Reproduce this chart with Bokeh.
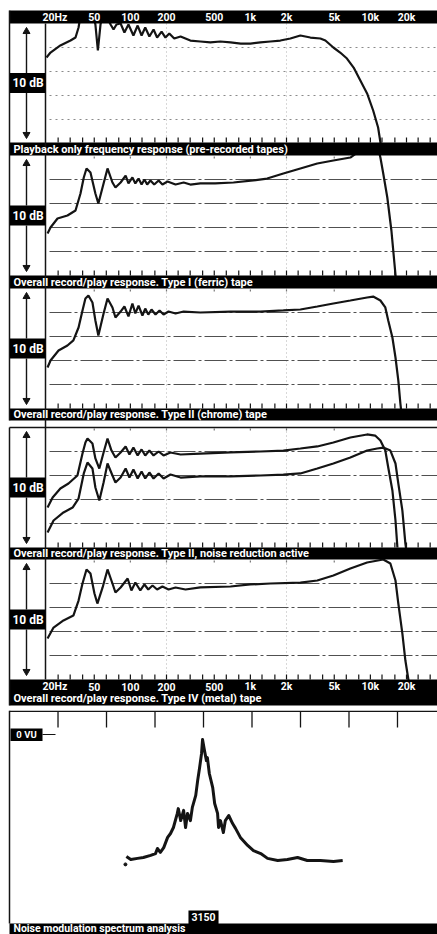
from bokeh.plotting import figure
from bokeh.models import Range1d, LogScale
from bokeh.layouts import column
from bokeh.embed import file_html
from bokeh.resources import INLINE
from bokeh.core.properties import value

FONT = "Roboto"
INK = "#141414"

# ---------------- data ----------------
freq_tick_values = [20, 50, 100, 200, 500, 1000, 2000, 5000, 10000, 20000]
freq_tick_labels = ["20Hz", "50", "100", "200", "500", "1k", "2k", "5k", "10k", "20k"]
third_octave_hz = [25, 31.5, 40, 50, 63, 80, 100, 125, 160, 200, 250, 315, 400, 500, 630,
                   800, 1000, 1250, 1600, 2000, 2500, 3150, 4000, 5000, 6300, 8000, 10000,
                   12500, 16000, 20000, 25000, 31500]
grid_db = [0, -2, -4, -6]
vgrid_hz = [200, 2000]

captions = [
    "Playback only frequency response (pre-recorded tapes)",
    "Overall record/play response. Type I (ferric) tape",
    "Overall record/play response. Type II (chrome) tape",
    "Overall record/play response. Type II, noise reduction active",
    "Overall record/play response. Type IV (metal) tape",
]

playback_hz = [20, 21.6, 26.1, 31.7, 34.9, 37.0, 38.4, 43.9, 49.3, 51.1, 53.6, 56.4, 58.7, 63.4,
               68.4, 72.4, 76.6, 82.9, 89.2, 96.4, 106, 115, 124, 133, 144, 156, 167, 182, 196,
               211, 232, 262, 316, 383, 464, 562, 683, 832, 1000, 1212, 1468, 1778, 2154, 2610,
               3162, 3830, 4217, 4916, 5600, 6380, 7250, 8250, 9390, 10550, 11600, 12350]
playback_db = [-0.83, -0.42, 0.17, 0.58, 0.83, 1.67, 2.67, 2.92, 2.75, 1.92, -0.25, 1.92, 2.75,
               2.58, 1.92, 1.5, 1.92, 2.0, 1.25, 1.92, 1.0, 1.83, 1.0, 1.67, 0.92, 1.5, 0.83,
               1.33, 0.83, 1.17, 0.75, 0.92, 0.58, 0.5, 0.42, 0.5, 0.42, 0.33, 0.33, 0.42, 0.5,
               0.58, 0.75, 1.0, 0.83, 0.75, 0.58, 0.0, -0.42, -0.92, -1.67, -2.75, -3.83,
               -5.25, -6.67, -8.42]

ferric_hz = [20.4, 21.6, 24.7, 29.9, 34.9, 38.4, 40.9, 43.1, 46.5, 51.1, 54.1, 59.8, 64.5, 70.9,
             75.1, 82.9, 91.3, 96.4, 104, 110, 117, 124, 131, 138, 147, 158, 172, 185, 204, 238,
             278, 316, 383, 508, 723, 1059, 1379, 1883, 2610, 3610, 4916, 6810, 8250, 9900,
             11600, 12120, 12800, 13840, 14970, 15870, 16500]
ferric_db = [-4.5, -4.0, -3.25, -3.0, -2.58, -1.17, 0.17, 0.92, 0.58, -1.17, -2.0, -0.33, 0.92,
             -0.25, -0.67, -0.25, 0.33, -0.33, 0.17, -0.33, 0.08, -0.42, 0.0, -0.42, -0.08,
             -0.42, -0.08, -0.42, -0.17, -0.42, -0.25, -0.42, -0.33, -0.33, -0.25, -0.08, 0.08,
             0.5, 0.92, 1.33, 1.58, 1.83, 2.42, 2.75, 2.6, 1.83, 0.5, -1.5, -4.25, -7.0, -8.83]

chrome_hz = [20.4, 21.6, 25.2, 29.9, 33.5, 37.0, 39.9, 42.2, 44.7, 48.3, 51.1, 54.1, 59.8, 64.5,
             70.9, 75.1, 82.9, 89.2, 96.4, 104, 110, 117, 126, 133, 141, 150, 162, 175, 189, 208,
             238, 278, 383, 683, 1212, 1883, 2610, 3610, 4916, 6810, 9390, 10550, 12120, 13320,
             14090, 15260, 16190, 17100, 17780, 18120]
chrome_db = [-4.58, -4.0, -3.17, -2.75, -2.33, -1.25, 0.17, 1.17, 1.42, 0.83, -0.67, -1.92,
             -0.08, 1.17, 0.42, -0.42, 0.08, 0.5, -0.33, 0.75, -0.08, 0.58, -0.25, 0.33, -0.17,
             0.25, -0.17, 0.17, -0.17, 0.08, -0.08, 0.08, 0.0, 0.08, 0.08, 0.17, 0.25, 0.5, 0.75,
             1.0, 1.25, 1.33, 1.0, 0.42, -0.67, -2.08, -3.75, -5.67, -7.58, -8.33]

nr_upper_hz = [20.4, 22.5, 26.1, 30.5, 36.2, 39.9, 42.2, 43.9, 48.3, 51.1, 55.1, 59.8, 64.5,
               69.6, 75.1, 82.9, 91.3, 98.2, 106, 115, 124, 133, 144, 156, 172, 189, 216, 262,
               383, 683, 1212, 1883, 2610, 3610, 4916, 6810, 9390, 10960, 12120, 13320, 14090,
               15260, 16190, 16800]
nr_upper_db = [-4.67, -3.83, -3.08, -2.67, -2.0, -0.17, 0.75, 1.08, 0.67, -0.58, -1.42, -0.08,
               1.08, 0.08, -0.5, -0.08, 0.42, -0.25, 0.33, -0.33, 0.17, -0.33, 0.08, -0.33, 0.0,
               -0.33, -0.08, -0.25, -0.17, -0.08, 0.0, 0.08, 0.25, 0.42, 0.75, 1.17, 1.42, 1.33,
               0.92, 0.08, -1.33, -3.25, -5.75, -8.0]

nr_lower_hz = [20.4, 22.9, 27.7, 33.0, 37.0, 40.9, 43.9, 48.3, 51.1, 55.1, 59.8, 64.5, 70.9,
               75.1, 82.9, 91.3, 98.2, 106, 115, 124, 133, 144, 156, 172, 189, 216, 262, 383,
               683, 1212, 1883, 2610, 3610, 4916, 6810, 9390, 11400, 12800, 14680, 16190, 17100,
               18480, 19580, 19950]
nr_lower_db = [-6.75, -5.75, -5.08, -4.67, -3.92, -1.83, -0.92, -1.42, -3.0, -4.08, -2.58, -1.0,
               -2.0, -2.58, -2.17, -1.42, -2.17, -1.5, -2.25, -1.67, -2.25, -1.75, -2.25, -1.83,
               -2.25, -1.92, -2.17, -2.08, -2.08, -2.0, -1.92, -1.83, -1.42, -1.0, -0.5, 0.08,
               0.25, 0.33, 0.08, -1.0, -2.67, -4.92, -7.67, -8.25]

metal_hz = [20.4, 22.9, 27.7, 33.5, 37.0, 39.9, 43.1, 46.5, 50.2, 53.1, 58.7, 64.5, 70.9, 75.1,
            82.9, 94.9, 102, 110, 121, 131, 141, 153, 167, 185, 208, 238, 288, 383, 683, 1000,
            1468, 2610, 3610, 4916, 6810, 9390, 12800, 14680, 16190, 17100, 18480, 19580, 20790]
metal_db = [-4.58, -3.67, -3.08, -2.67, -1.42, 0.0, 1.17, 0.83, -0.83, -1.67, -0.33, 1.17, 0.0,
            -0.75, -0.33, 0.42, -0.58, 0.08, -0.58, -0.08, -0.5, -0.17, -0.5, -0.25, -0.5, -0.33,
            -0.5, -0.33, -0.25, -0.08, 0.0, 0.08, 0.25, 0.67, 1.25, 1.75, 2.0, 1.67, 0.25, -1.67,
            -4.17, -6.42, -8.08]

noise_hz = [2991, 3000, 3014, 3026, 3041, 3051, 3055, 3061, 3068, 3076, 3082, 3088, 3096, 3098,
            3103, 3109, 3113, 3117, 3123, 3127, 3134, 3138, 3142, 3146, 3148, 3152, 3156, 3158,
            3162, 3169, 3173, 3179, 3181, 3185, 3191, 3195, 3202, 3210, 3216, 3226, 3241, 3253,
            3268, 3282, 3303, 3323, 3344, 3364, 3391, 3418, 3437]
noise_db = [-40.7, -41.7, -41.3, -41.0, -40.3, -39.7, -38.0, -39.3, -37.7, -34.3, -33.0, -31.0,
            -26.3, -24.7, -28.7, -25.3, -31.0, -26.3, -28.7, -24.3, -20.3, -15.3, -11.0, -6.3,
            -1.7, -5.3, -8.7, -7.7, -13.0, -17.7, -23.0, -26.3, -31.0, -28.7, -32.7, -28.7,
            -27.0, -29.7, -31.3, -34.3, -37.0, -38.7, -39.7, -41.3, -42.0, -41.7, -41.0, -42.0,
            -42.0, -42.3, -42.0]
noise_stray_hz = [2989]
noise_stray_db = [-43.3]
noise_ticks_hz = [2850, 2950, 3050, 3150, 3250, 3350, 3450, 3550]
noise_centre_label = "3150"


# ---------------- layout helpers (page pixel positions) ----------------
def hz(px):
    """page x pixel -> position on the log frequency axis (decade = 120 px, 20 Hz at x=46)"""
    return 20 * 10 ** ((px - 46) / 120)


XL, XR = hz(9), hz(437) * 1.02
panels = [("p1", 23, 142), ("p2", 155, 275), ("p3", 288, 408), ("p4", 427, 547), ("p5", 559, 679)]
series = [
    ("p1", [(playback_hz, playback_db)]),
    ("p2", [(ferric_hz, ferric_db)]),
    ("p3", [(chrome_hz, chrome_db)]),
    ("p4", [(nr_upper_hz, nr_upper_db), (nr_lower_hz, nr_lower_db)]),
    ("p5", [(metal_hz, metal_db)]),
]

# ---------------- figure A : five response panels ----------------
pA = figure(width=437, height=710, x_axis_type="log",
            x_range=Range1d(hz(0), hz(437)), y_range=Range1d(710, 0),
            toolbar_location=None, output_backend="svg", min_border=0,
            x_axis_location=None, y_axis_location=None, outline_line_color=None,
            background_fill_color="white", border_fill_color="white")
pA.x_scale = LogScale()
pA.grid.visible = False

extra = {}
for name, top, bot in panels:
    # 12 px per dB, +2 dB at panel top
    extra[name] = Range1d(start=2 - (710 - top) / 12, end=2 + top / 12)
pA.extra_y_ranges = extra

top_marks = freq_tick_values[1:8]
for name, top, bot in panels:
    pA.segment(x0=vgrid_hz, y0=[top] * len(vgrid_hz), x1=vgrid_hz, y1=[bot] * len(vgrid_hz),
               line_color="#b0b0b0", line_width=1, line_dash="1 3")
    if name == "p1":
        col, dash = "#8a8a8a", "2 4"
    else:
        col, dash = "#505050", "22 3 3 3"
    pA.segment(x0=[hz(49)] * 4, x1=[XR] * 4, y0=grid_db, y1=grid_db, y_range_name=name,
               line_color=col, line_width=1, line_dash=dash)
    pA.segment(x0=third_octave_hz, x1=third_octave_hz, y0=[bot] * len(third_octave_hz),
               y1=[bot - 5] * len(third_octave_hz), line_color=INK, line_width=1.2)
    if name != "p1":
        pA.segment(x0=top_marks, x1=top_marks, y0=[top + 1] * len(top_marks),
                   y1=[top + 3] * len(top_marks), line_color="#777777", line_width=1.2)

for name, curves in series:
    for fx, db in curves:
        pA.line(fx, db, y_range_name=name, line_color=INK, line_width=2.2)

# black bars
bar_tops = [10, 142, 275, 408, 547, 679]
bar_bots = [23, 155, 288, 420, 559, 705]
pA.quad(left=[XL] * 6, right=[XR] * 6, top=bar_tops, bottom=bar_bots,
        fill_color="black", line_color=None)

# frame lines
pA.segment(x0=[XL, XL, hz(45), XL], y0=[10, 427, 23, 427],
           x1=[XL, XL, hz(45), XR], y1=[420, 705, 679, 427],
           line_color=INK, line_width=1.5)

# left column: arrows + 10 dB boxes
mids = [(t + b) / 2 for _, t, b in panels]
ax = hz(26)
pA.segment(x0=[ax] * 10, x1=[ax] * 10,
           y0=sum([[t + 7, m + 10] for (_, t, b), m in zip(panels, mids)], []),
           y1=sum([[m - 10, b - 7] for (_, t, b), m in zip(panels, mids)], []),
           line_color=INK, line_width=1.4)
pA.scatter([ax] * 5, [t + 8 for _, t, b in panels], marker="triangle", size=7,
           fill_color=INK, line_color=INK)
pA.scatter([ax] * 5, [b - 8 for _, t, b in panels], marker="inverted_triangle", size=7,
           fill_color=INK, line_color=INK)
pA.quad(left=[hz(9.5)] * 5, right=[hz(45)] * 5, top=[m - 10 for m in mids],
        bottom=[m + 10 for m in mids], fill_color="black", line_color=None)
pA.text([hz(27.5)] * 5, mids, text=["10 dB"] * 5, text_font=value(FONT),
        text_font_style="bold", text_font_size="12px", text_color="white",
        text_align="center", text_baseline="middle")

# frequency labels (top bar and bottom bar)
for ylab in (16.5, 686):
    pA.text([hz(42)], [ylab], text=[freq_tick_labels[0]], text_font=value(FONT),
            text_font_style="bold", text_font_size="10.5px", text_color="white",
            text_align="left", text_baseline="middle")
    pA.text(freq_tick_values[1:], [ylab] * 9, text=freq_tick_labels[1:], text_font=value(FONT),
            text_font_style="bold", text_font_size="10.5px", text_color="white",
            text_align="center", text_baseline="middle")

# captions
pA.text([hz(13)] * 5, [148.5, 281.5, 414, 553, 698], text=captions, text_font=value(FONT),
        text_font_style="bold", text_font_size="11px", text_color="white",
        text_align="left", text_baseline="middle")

# ---------------- figure B : noise modulation ----------------
pB = figure(width=437, height=224, x_range=Range1d(0, 437), y_range=Range1d(934, 710),
            toolbar_location=None, output_backend="svg", min_border=0,
            x_axis_location=None, y_axis_location=None, outline_line_color=None,
            background_fill_color="white", border_fill_color="white")
pB.grid.visible = False
pB.extra_x_ranges = {"hz": Range1d(2731.4, 3632.5)}
pB.extra_y_ranges = {"db": Range1d(-66.67, 8)}

pB.segment(x0=[9, 9], y0=[710.8, 710], x1=[437, 9], y1=[710.8, 923], line_color=INK, line_width=1.5)
pB.segment(x0=noise_ticks_hz, x1=noise_ticks_hz, y0=[711] * 8, y1=[727] * 8,
           x_range_name="hz", line_color=INK, line_width=1.3)
pB.line(noise_hz, noise_db, x_range_name="hz", y_range_name="db", line_color=INK,
        line_width=3, line_join="round")
pB.scatter(noise_stray_hz, noise_stray_db, x_range_name="hz", y_range_name="db",
           size=3, color=INK)

# 0 VU marker
pB.segment(x0=[42], x1=[55], y0=[0], y1=[0], y_range_name="db", line_color=INK, line_width=1.2)
pB.quad(left=[10], right=[42], top=[728], bottom=[740.5], fill_color="black", line_color=None)
pB.text([26], [734.3], text=["0 VU"], text_font=value(FONT), text_font_style="bold",
        text_font_size="9.5px", text_color="white", text_align="center", text_baseline="middle")

# caption bar + centre label
pB.quad(left=[9], right=[437], top=[923], bottom=[934], fill_color="black", line_color=None)
pB.quad(left=[3119], right=[3181], top=[910], bottom=[923.5], x_range_name="hz",
        fill_color="black", line_color=None)
pB.text([3150], [916.8], text=[noise_centre_label], x_range_name="hz", text_font=value(FONT),
        text_font_style="bold", text_font_size="10.5px", text_color="white",
        text_align="center", text_baseline="middle")
pB.text([13], [928.3], text=["Noise modulation spectrum analysis"], text_font=value(FONT),
        text_font_style="bold", text_font_size="10.5px", text_color="white",
        text_align="left", text_baseline="middle")

layout = column(pA, pB, spacing=0)
open("out.html", "w").write(file_html(layout, INLINE))
